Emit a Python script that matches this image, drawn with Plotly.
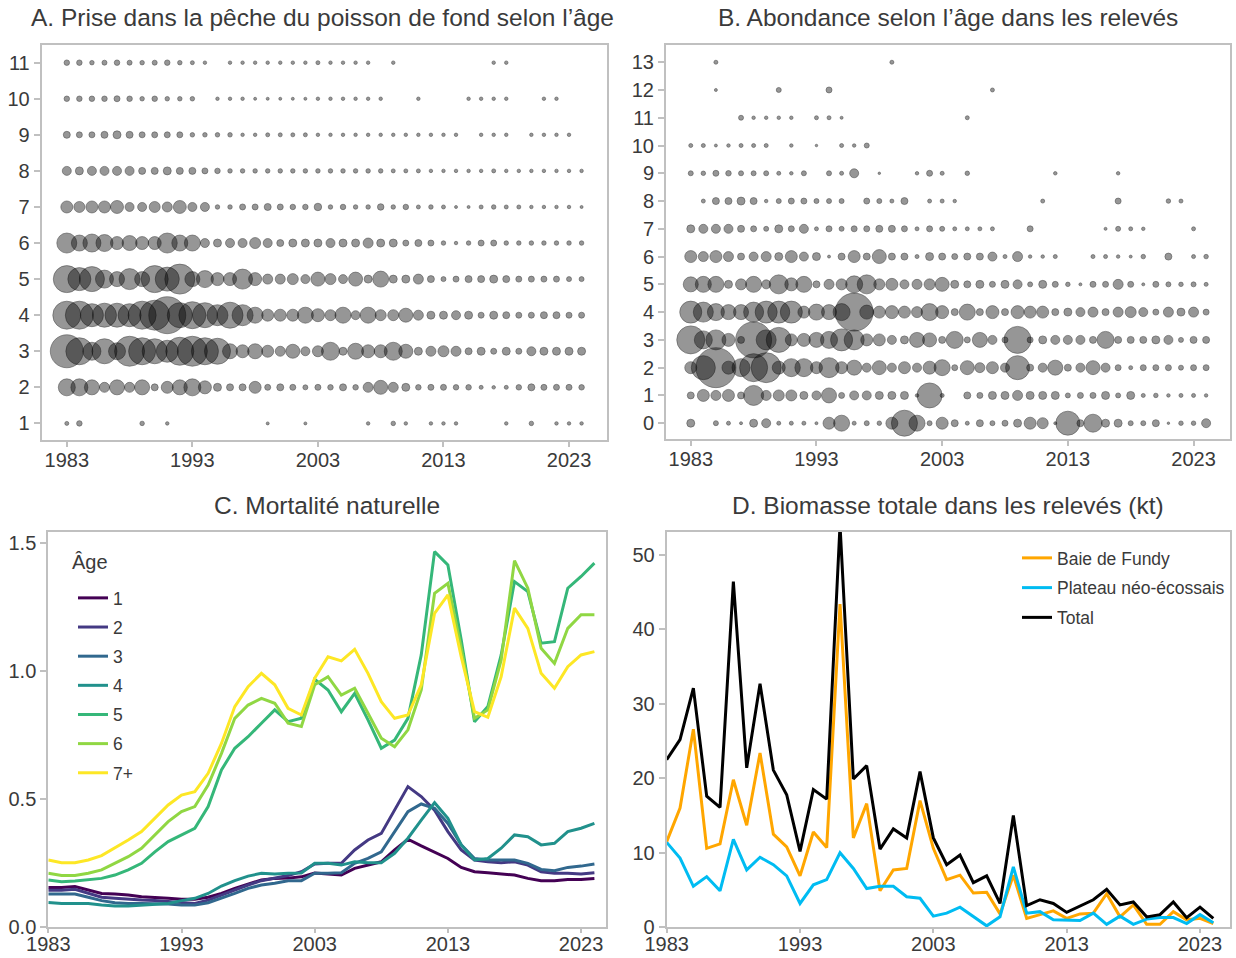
import plotly.graph_objects as go

years = list(range(1983, 2025))
N = None

# ---------- Panel A: catch at age (relative index) ----------
catch_age = {
    1: [4,5.5,N,N,N,N,4.5,N,3.5,N, N,N,N,N,N,N,3,N,N,3, N,N,N,N,3.5,N,4.5,3.5,N,3.5, 3.5,3.5,N,N,N,3.5,N,4.5,N,3.5, 3.5,3.5],
    2: [17,17,15,10,15,10,15,7,12,15, 17,13,8,7,7,12,6,7,6,5, 6,5.5,7,5.5,10,14,10,8,5.5,6, 6,5.5,5.5,4,3.5,4,5.5,7,6,6, 6,5.5],
    3: [33,27,18,25,17,30,27,25,22,28, 30,27,26,15,13,15,12,10,14,9, 11,18,8,16,13,13,18,14,8,10, 11,10,7,8,6,8,6,9,8,8, 8,8],
    4: [28,28,23,24,24,23,28,30,37,25, 27,25,21,26,21,16,12,12,12,16, 13,11,16,9,16,11,11,14,10,8, 8,9,8,6,8,7,6,6,7,7, 6,6],
    5: [27,23,25,18,15,21,15,27,24,30, 15,17,13,13,20,13,10,10,11,9, 14,11,9,14,8,16,8,8,10,7, 5,6,7,7,8,7,6,6,6,6, 5,5],
    6: [20,16,18,17,13,15,13,13,20,16, 16,9,8,9,9,11,9,7,8,8, 8,9,8,8,10,8,8,6,7,6, 4.5,3.5,4.5,6,6,4.5,4.5,4.5,4.5,4.5, 4.5,4.5],
    7: [12,11,12,12,13,9,9,11,10,13, 9,9,4.5,4.5,6,6,7,6,5.5,5.5, 7.5,4.5,5.5,4.5,4.5,6.5,4.5,5.5,4,4.5, 4,3,3,4,4.5,4,4,3.5,3.5,3.5, 3.5,3],
    8: [9,8,9,9,9,9,7,7,8,7, 7,6,5.5,4.5,4.5,4.5,4.5,4.5,4.5,4.5, 4.5,4.5,4.5,4.5,4.5,4.5,4,4,4,3.5, 3.5,3.5,3.5,3.5,4,3.5,3.5,3.5,3.5,3.5, 3.5,3.5],
    9: [7,6,6,7,8,7,6,6,6,6, 4.5,4.5,4.5,4.5,3.5,3.5,4,4,4,4, 3.5,3.5,3.5,3.5,3.5,3.5,3.5,3.5,3.5,3.5, 3.5,3.5,N,3.5,3.5,3.5,N,3.5,3.5,3.5, 3.5,N],
    10: [5.5,5.5,5.5,5.5,6,5.5,4.5,5.5,4.5,4.5, 4.5,N,3.5,3.5,3.5,3,3,3,3,3, 3.5,3.5,3.5,3.5,3.5,3.5,N,N,3.5,N, N,N,3.5,3.5,3.5,3.5,N,N,3.5,3.5, N,N],
    11: [5.5,5.5,4.5,5,5.5,5,4.5,5,5.5,4.5, 4,3.5,N,3.5,3.5,3.5,3.5,3.5,3.5,3.5, 4,3.5,3.5,3.5,3.5,N,3.5,N,N,N, N,N,N,N,3.5,3.5,N,N,N,N, N,N],
}

# ---------- Panel B: survey abundance at age (relative index) ----------
survey_age = {
    0: [8,N,5,4,3,8,9,4,4,4, 3,12,16,4,5,4.5,12,26,16,5, 12,7,4,7,5,6,8,12,11,3, 24,7,18,8,8,5,5,7,2.5,4.5, 4.5,9],
    1: [7,12,10,12,7,20,10,11,11,8, 9,15,6,9,9,8,8,8,3.5,25, 4,N,7,6,8,8,10,8,8,8, 5,6,6,8,5,8,4,4.5,3.5,4, 4,3.5],
    2: [12,24,40,13,18,28,30,13,18,18, 12,20,12,15,9,14,9,12,9,13, 16,6,14,10,12,9,24,7,9,15, 7,9,14,9,6,4,6,6,6,5, 6,6],
    3: [28,18,20,13,7,36,20,25,12,13, 15,17,22,20,12,12,9,8,15,14, 7,17,6,15,9,6,27,6,8,9, 9,9,7,17,7,7,7,8,9,5, 7,7],
    4: [22,20,17,15,15,20,22,22,22,12, 16,15,17,38,14,12,13,12,11,17, 13,7,16,7,13,7,13,12,12,7, 8,9,10,7,10,11,9,6,10,8, 10,6],
    5: [15,16,16,8,11,16,9,19,13,16, 7,10,11,17,19,11,12,9,10,11, 14,8,7,8,6,8,9,5,8,6, 4.5,3,6,6,10,6,3,6,5,4.5, 5,4],
    6: [12,10,12,10,7,9,10,8,12,9, 8,3,7,12,7,14,7,7,4,8, 7,6,7,7,9,4,10,3.5,3.5,4, N,N,4,4,3.5,3,4.5,N,7,N, 4,4.5],
    7: [8,9,9,9,7,6,5,8,6,9, 4,6,5,6,6,7,7,6,4,6, 5,4,4,4,4,N,N,6,N,N, N,N,N,3,5,4,3.5,N,N,N, 4,N],
    8: [N,4,7,7,8,7,3.5,5,6,6, 5,5,5,N,6,5,4,7,N,4, 4,3.5,N,N,N,N,N,N,4,N, N,N,N,N,6,N,N,N,4.5,4, N,N],
    9: [5,4.5,6,5.5,5,5,5,4,3.5,5, N,5,4,9,N,2.5,N,N,3.5,6, 4,N,4.5,N,N,N,N,N,N,3.5, N,N,N,N,3.5,N,N,N,N,N, N,N],
    10: [4,4,3,3.5,4,4,4,N,3.5,N, 2.5,N,4,3.5,5,N,N,N,N,N, N,N,N,N,N,N,N,N,N,N, N,N,N,N,N,N,N,N,N,N, N,N],
    11: [N,N,N,N,5,3.5,3.5,3.5,3.5,N, 4,4,3,N,N,N,N,N,N,N, N,N,4,N,N,N,N,N,N,N, N,N,N,N,N,N,N,N,N,N, N,N],
    12: [N,N,3,N,N,N,N,5,N,N, N,6,N,N,N,N,N,N,N,N, N,N,N,N,4,N,N,N,N,N, N,N,N,N,N,N,N,N,N,N, N,N],
    13: [N,N,4,N,N,N,N,N,N,N, N,N,N,N,N,N,4,N,N,N, N,N,N,N,N,N,N,N,N,N, N,N,N,N,N,N,N,N,N,N, N,N],
}

# ---------- Panel C: natural mortality ----------
m_age1 = [0.153,0.153,0.157,0.143,0.130,0.128,0.124,0.117,0.115,0.111, 0.107,0.107,0.115,0.130,0.150,0.167,0.183,0.189,0.190,0.195,
          0.210,0.206,0.202,0.228,0.241,0.254,0.300,0.342,0.316,0.293, 0.267,0.232,0.215,0.211,0.206,0.202,0.189,0.180,0.180,0.185, 0.185,0.189]
m_age2 = [0.143,0.143,0.146,0.130,0.115,0.111,0.107,0.104,0.102,0.098, 0.094,0.091,0.104,0.124,0.143,0.163,0.180,0.189,0.200,0.215,
          0.245,0.248,0.248,0.300,0.339,0.365,0.456,0.548,0.509,0.456, 0.372,0.300,0.261,0.254,0.250,0.254,0.241,0.215,0.209,0.209, 0.206,0.211]
m_age3 = [0.128,0.128,0.128,0.115,0.102,0.094,0.091,0.091,0.091,0.089, 0.085,0.085,0.094,0.111,0.130,0.150,0.163,0.170,0.180,0.180,
          0.209,0.209,0.211,0.248,0.267,0.293,0.372,0.450,0.480,0.463, 0.404,0.320,0.267,0.261,0.261,0.261,0.248,0.224,0.219,0.232, 0.237,0.245]
m_age4 = [0.095,0.091,0.091,0.091,0.085,0.081,0.081,0.085,0.089,0.091, 0.102,0.111,0.130,0.159,0.180,0.198,0.209,0.206,0.209,0.210,
          0.248,0.248,0.241,0.254,0.250,0.250,0.287,0.346,0.417,0.485, 0.424,0.320,0.261,0.267,0.307,0.359,0.352,0.320,0.326,0.372, 0.385,0.404]
m_age5 = [0.183,0.176,0.179,0.185,0.189,0.202,0.222,0.248,0.293,0.333, 0.359,0.385,0.470,0.613,0.698,0.743,0.796,0.848,0.802,0.815,
          0.968,0.926,0.841,0.913,0.809,0.698,0.730,0.815,1.063,1.467, 1.415,1.122,0.802,0.861,1.063,1.350,1.311,1.109,1.115,1.324, 1.370,1.422]
m_age6 = [0.209,0.200,0.200,0.209,0.222,0.248,0.274,0.307,0.359,0.411, 0.450,0.470,0.554,0.678,0.815,0.867,0.893,0.874,0.796,0.783,
          0.946,0.978,0.906,0.933,0.835,0.737,0.704,0.770,0.926,1.304, 1.343,1.089,0.815,0.848,1.043,1.432,1.324,1.089,1.030,1.167, 1.220,1.220]
m_age7p = [0.261,0.250,0.250,0.261,0.278,0.307,0.339,0.372,0.424,0.476, 0.515,0.528,0.600,0.717,0.861,0.939,0.991,0.946,0.854,0.828,
           0.972,1.056,1.040,1.085,0.991,0.880,0.815,0.828,0.946,1.226, 1.298,1.056,0.841,0.819,0.978,1.246,1.167,0.991,0.933,1.017, 1.063,1.076]
m_labels = ["1", "2", "3", "4", "5", "6", "7+"]

# ---------- Panel D: survey biomass (kt) ----------
bio_fundy = [11.5,16.0,26.6,10.6,11.2,19.8,13.7,23.4,12.5,10.8, 6.9,12.8,10.7,43.4,12.0,16.6,4.9,7.7,7.9,17.0,
             10.6,6.4,7.0,4.6,4.7,1.8,7.0,1.2,1.7,2.2, 1.2,1.8,1.9,4.5,1.4,3.0,0.4,0.4,2.1,1.0, 1.2,0.5]
bio_shelf = [11.4,9.3,5.5,6.8,4.9,11.8,7.7,9.4,8.4,6.9, 3.2,5.7,6.4,10.0,7.9,5.2,5.5,5.5,4.1,3.9,
             1.5,1.9,2.7,1.4,0.2,1.4,8.1,1.9,2.1,1.0, 1.0,0.9,1.9,0.4,1.5,0.4,1.1,1.3,1.3,0.5, 1.7,0.6]
bio_total = [22.5,25.2,32.1,17.6,16.1,46.4,21.4,32.7,21.1,17.8, 10.2,18.5,17.2,54.0,19.9,21.7,10.5,13.2,12.0,20.9,
             12.0,8.4,9.7,6.0,6.9,3.2,15.0,2.9,3.7,3.2, 2.0,2.8,3.7,5.1,3.0,3.4,1.4,1.7,3.4,1.3, 2.7,1.2]

x_ticks = [1983, 1993, 2003, 2013, 2023]

FONT = "Liberation Sans, Arial, sans-serif"
TXT = "#3a3a3a"
FRAME = "#c0c0c0"

fig = go.Figure()

def bubbles(data, xa, ya):
    for age, vals in data.items():
        xs = [y for y, v in zip(years, vals) if v is not None]
        ss = [v for v in vals if v is not None]
        fig.add_trace(go.Scatter(
            x=xs, y=[age] * len(xs), mode="markers", xaxis=xa, yaxis=ya,
            showlegend=False, hoverinfo="x+y",
            marker=dict(size=ss, sizemode="diameter", sizeref=1.0,
                        color="rgba(0,0,0,0.58)",
                        line=dict(color="rgba(0,0,0,0.55)", width=1))))

bubbles(catch_age, "x", "y")
bubbles(survey_age, "x2", "y2")

viridis7 = ["#440154", "#443983", "#31688e", "#21918c", "#35b779", "#90d743", "#fde725"]
for lab, vals, col in zip(m_labels, [m_age1, m_age2, m_age3, m_age4, m_age5, m_age6, m_age7p], viridis7):
    fig.add_trace(go.Scatter(x=years, y=vals, mode="lines", name=lab, xaxis="x3", yaxis="y3",
                             line=dict(color=col, width=3), legend="legend", legendgroup="m" + lab))

for lab, vals, col in [("Baie de Fundy", bio_fundy, "#ffa600"),
                       ("Plateau néo-écossais", bio_shelf, "#00bcf2"),
                       ("Total", bio_total, "#000000")]:
    fig.add_trace(go.Scatter(x=years, y=vals, mode="lines", name=lab, xaxis="x4", yaxis="y4",
                             line=dict(color=col, width=3), legend="legend2", legendgroup="b" + lab))

W, H = 1236, 958
def dom(a, b, total):
    return [a / total, b / total]
def ydom(top, bottom):
    return [1 - bottom / H, 1 - top / H]

ax_common = dict(showline=True, mirror=True, linecolor=FRAME, linewidth=2,
                 ticks="outside", tickwidth=1.5, tickcolor=FRAME,
                 showgrid=False, zeroline=False, automargin=False,
                 tickfont=dict(family=FONT, size=20, color=TXT))
xtop = dict(ticklen=5, ticklabelstandoff=-4, **ax_common)
xbot = dict(ticklen=4, ticklabelstandoff=-6, **ax_common)
yax = dict(ticklen=6, **ax_common)

LEG_FONT = dict(family=FONT, size=17.5, color=TXT)
fig.update_layout(
    width=W, height=H, margin=dict(l=0, r=0, t=0, b=0, autoexpand=False),
    paper_bgcolor="white", plot_bgcolor="white",
    font=dict(family=FONT, color=TXT),
    xaxis=dict(domain=dom(41.7, 606.7, W), range=[1981.0, 2026.0], tickvals=x_ticks, anchor="y", **xtop),
    yaxis=dict(domain=ydom(45, 440), range=[0.54, 11.49], tickvals=list(range(1, 12)), anchor="x", **yax),
    xaxis2=dict(domain=dom(666, 1230, W), range=[1981.03, 2025.9], tickvals=x_ticks, anchor="y2", **xtop),
    yaxis2=dict(domain=ydom(45, 439.3), range=[-0.58, 13.62], tickvals=list(range(0, 14)), anchor="x2", **yax),
    xaxis3=dict(domain=dom(48.3, 606, W), range=[1983, 2024.87], tickvals=x_ticks, anchor="y3", **xbot),
    yaxis3=dict(domain=ydom(531.7, 926.7), range=[0, 1.545], tickvals=[0, 0.5, 1.0, 1.5], tickformat=".1f", anchor="x3", **yax),
    xaxis4=dict(domain=dom(666.7, 1230, W), range=[1983, 2025.25], tickvals=x_ticks, anchor="y4", **xbot),
    yaxis4=dict(domain=ydom(531.7, 927.3), range=[0, 53.1], tickvals=[0, 10, 20, 30, 40, 50], anchor="x4", **yax),
    legend=dict(x=73 / W, y=1 - 580 / H, xanchor="left", yanchor="top", bgcolor="rgba(0,0,0,0)",
                font=LEG_FONT, tracegroupgap=3.4),
    legend2=dict(x=1017 / W, y=1 - 540 / H, xanchor="left", yanchor="top", bgcolor="rgba(0,0,0,0)",
                 font=LEG_FONT, tracegroupgap=4),
)

titles = [
    ("A. Prise dans la pêche du poisson de fond selon l’âge", 323, 18, 24.5),
    ("B. Abondance selon l’âge dans les relevés", 948, 18, 24.5),
    ("C. Mortalité naturelle", 327, 505, 24.5),
    ("D. Biomasse totale dans les relevés (kt)", 948, 505, 24.5),
    ("Âge", 90, 562, 20),
]
for t, xc, yc, fs in titles:
    fig.add_annotation(text=t, x=xc / W, y=1 - yc / H, xref="paper", yref="paper",
                       xanchor="center", yanchor="middle", showarrow=False,
                       font=dict(family=FONT, size=fs, color=TXT))

fig.write_html("out.html", config={"displayModeBar": False},
               post_script="document.body.style.margin='0';document.body.style.overflow='hidden';")
